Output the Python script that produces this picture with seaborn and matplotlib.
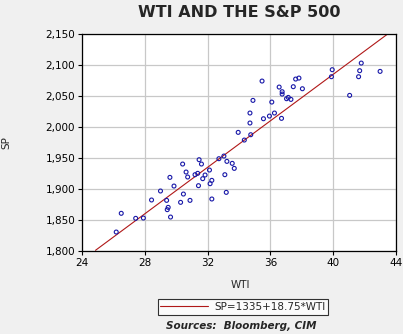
import matplotlib
matplotlib.use("Agg")
import matplotlib.pyplot as plt
import seaborn as sns
import numpy as np
import pandas as pd

wti = [26.18, 26.50, 27.42, 27.91, 28.43, 29.00, 29.39, 29.49, 29.43, 29.64,
       29.60, 29.86, 30.28, 30.46, 30.41, 30.63, 30.73, 30.88, 31.20, 31.37,
       31.46, 31.61, 31.42, 31.69, 31.84, 32.12, 32.16, 32.27, 32.27, 32.72,
       33.04, 33.10, 33.19, 33.23, 33.57, 33.70, 33.95, 34.34, 34.75, 34.70,
       34.70, 34.89, 35.47, 35.56, 35.94, 36.09, 36.26, 36.56, 36.71, 36.75,
       36.75, 37.03, 37.14, 37.31, 37.46, 37.61, 37.82, 38.04, 39.94, 39.89,
       41.05, 41.62, 41.69, 41.79, 42.99]
sp = [1830.6, 1860.8, 1852.7, 1853.2, 1882.3, 1896.8, 1881.7, 1870.4, 1866.7, 1854.8,
      1918.8, 1904.8, 1878.5, 1891.9, 1940.3, 1927.4, 1919.4, 1881.7, 1923.1, 1925.3,
      1947.3, 1940.3, 1905.4, 1916.7, 1922.6, 1930.6, 1908.6, 1914.0, 1883.9, 1948.9,
      1953.2, 1923.1, 1894.6, 1944.6, 1941.4, 1933.3, 1991.4, 1979.0, 1987.6, 2006.5,
      2022.6, 2043.0, 2074.2, 2013.4, 2017.7, 2040.3, 2022.6, 2064.5, 2014.0, 2057.0,
      2053.2, 2045.7, 2047.8, 2044.6, 2065.1, 2077.4, 2079.0, 2061.8, 2092.5, 2081.2,
      2051.1, 2081.2, 2090.9, 2103.2, 2089.8]

intercept = 1335.0
slope = 18.75
fit_x = [24.86, 43.47]
fit_y = [intercept + slope * v for v in fit_x]

x_ticks = [24, 28, 32, 36, 40, 44]
y_ticks = [1800, 1850, 1900, 1950, 2000, 2050, 2100, 2150]
y_tick_labels = ["1,800", "1,850", "1,900", "1,950", "2,000", "2,050", "2,100", "2,150"]

sns.set_style("whitegrid")
plt.rcParams['font.family'] = ['DejaVu Sans']

fig = plt.figure(figsize=(4.03, 3.34), dpi=100, facecolor="#F0F0F0")
ax = fig.add_axes([0.2035, 0.2485, 0.779, 0.6495])
ax.set_facecolor("white")

df = pd.DataFrame({"WTI": wti, "SP": sp})
fit = pd.DataFrame({"WTI": fit_x, "SP": fit_y})

sns.scatterplot(data=df, x="WTI", y="SP", ax=ax, marker="o", s=8,
                facecolors="none", edgecolor="#1818A8", linewidth=0.8, zorder=3)
sns.lineplot(data=fit, x="WTI", y="SP", ax=ax, color="#B01818", linewidth=0.8,
             label="SP=1335+18.75*WTI", zorder=2)

ax.set_xlim(24, 44)
ax.set_ylim(1800, 2150)
ax.set_xticks(x_ticks)
ax.set_yticks(y_ticks)
ax.set_yticklabels(y_tick_labels)
ax.grid(True, color="#C8C8C8", linewidth=0.9)
for s in ax.spines.values():
    s.set_color("black")
    s.set_linewidth(0.9)
ax.tick_params(axis="both", labelsize=7.5, colors="black", length=3, width=0.8,
               direction="out", left=True, bottom=True, pad=2)

ax.set_xlabel("WTI", fontsize=7.5)
ax.xaxis.set_label_coords(0.503, -0.135)
ax.set_ylabel("SP", fontsize=7.5)
ax.yaxis.set_label_coords(-0.225, 0.5)

fig.text(0.593, 0.963, "WTI AND THE S&P 500", ha="center", va="center",
         fontsize=11.5, fontweight="heavy")

leg = ax.legend(loc="center", bbox_to_anchor=(0.603, 0.081), bbox_transform=fig.transFigure,
                fontsize=7.5, frameon=True, fancybox=False, handlelength=4.6,
                borderpad=0.25, handletextpad=0.6, borderaxespad=0)
leg.get_frame().set_edgecolor("black")
leg.get_frame().set_linewidth(0.8)
leg.get_frame().set_facecolor("white")

fig.text(0.598, 0.024, "Sources:  Bloomberg, CIM", ha="center", va="center",
         fontsize=7.5, fontweight="bold", fontstyle="italic")

fig.savefig("out.png", dpi=100, facecolor=fig.get_facecolor())
